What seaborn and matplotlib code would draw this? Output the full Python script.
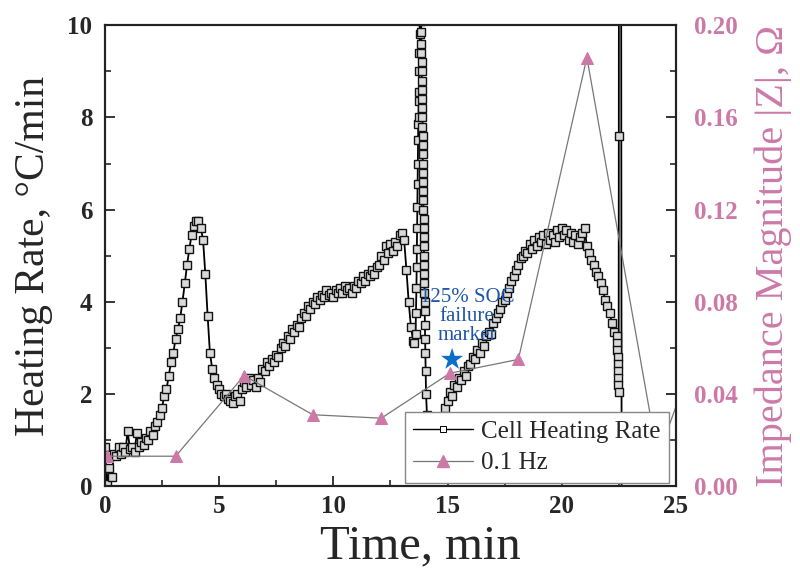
import numpy as np
import pandas as pd
import seaborn as sns
import matplotlib.pyplot as plt
import matplotlib.ticker as ticker
import matplotlib.lines as mlines

# %% data

# cell heating rate (min, degC/min)
heat_time = [
    0.0, 0.1, 0.2, 0.3, 0.4, 0.5, 0.6, 0.7, 0.8, 0.9,
    1.0, 1.1, 1.2, 1.3, 1.4, 1.5, 1.6, 1.7, 1.8, 1.9,
    2.0, 2.1, 2.2, 2.3, 2.4, 2.5, 2.6, 2.7, 2.8, 2.9,
    3.0, 3.1, 3.2, 3.3, 3.4, 3.5, 3.6, 3.7, 3.8, 3.9,
    4.0, 4.1, 4.2, 4.3, 4.4, 4.5, 4.6, 4.7, 4.8, 4.9,
    5.0, 5.1, 5.2, 5.3, 5.4, 5.5, 5.6, 5.7, 5.8, 5.9,
    6.0, 6.1, 6.2, 6.3, 6.4, 6.5, 6.6, 6.7, 6.8, 6.9,
    7.0, 7.1, 7.2, 7.3, 7.4, 7.5, 7.6, 7.7, 7.8, 7.9,
    8.0, 8.1, 8.2, 8.3, 8.4, 8.5, 8.6, 8.7, 8.8, 8.9,
    9.0, 9.1, 9.2, 9.3, 9.4, 9.5, 9.6, 9.7, 9.8, 9.9,
    10.0, 10.1, 10.2, 10.3, 10.4, 10.5, 10.6, 10.7, 10.8, 10.9,
    11.0, 11.1, 11.2, 11.3, 11.4, 11.5, 11.6, 11.7, 11.8, 11.9,
    12.0, 12.1, 12.2, 12.3, 12.4, 12.5, 12.6, 12.7, 12.8, 12.9,
    13.0, 13.1, 13.2, 13.3, 13.4, 13.5,
    # first spike (up, then down)
    13.55, 13.60, 13.62, 13.64, 13.65, 13.66, 13.67, 13.68, 13.69, 13.70,
    13.71, 13.72, 13.73, 13.74, 13.75, 13.76, 13.77, 13.78, 13.79,
    13.840, 13.845, 13.850, 13.855, 13.860, 13.865, 13.870, 13.875, 13.880, 13.885,
    13.890, 13.895, 13.900, 13.905, 13.910, 13.915, 13.920, 13.925, 13.930, 13.935,
    13.940, 13.945, 13.950, 13.955, 13.960, 13.965, 13.970, 13.975, 13.980, 13.985,
    13.990, 13.995, 14.000, 14.010, 14.020, 14.030, 14.040, 14.060,
    14.1, 14.2, 14.3, 14.4, 14.5, 14.6, 14.7, 14.8, 14.9,
    15.0, 15.1, 15.2, 15.3, 15.4, 15.5, 15.6, 15.7, 15.8, 15.9,
    16.0, 16.1, 16.2, 16.3, 16.4, 16.5, 16.6, 16.7, 16.8, 16.9,
    17.0, 17.1, 17.2, 17.3, 17.4, 17.5, 17.6, 17.7, 17.8, 17.9,
    18.0, 18.1, 18.2, 18.3, 18.4, 18.5, 18.6, 18.7, 18.8, 18.9,
    19.0, 19.1, 19.2, 19.3, 19.4, 19.5, 19.6, 19.7, 19.8, 19.9,
    20.0, 20.1, 20.2, 20.3, 20.4, 20.5, 20.6, 20.7, 20.8, 20.9,
    21.0, 21.1, 21.2, 21.3, 21.4, 21.5, 21.6, 21.7, 21.8, 21.9,
    22.0, 22.1, 22.2, 22.3, 22.4,
    # second spike
    22.42, 22.43, 22.44, 22.45, 22.46, 22.47, 22.48, 22.49, 22.50, 22.51, 22.73,
]
heat_rate = [
    0.85, 0.05, 0.40, 0.20, 0.70, 0.65, 0.85, 0.70, 0.85, 0.75,
    1.20, 0.80, 0.85, 0.75, 1.15, 0.85, 0.95, 0.90, 1.05, 1.00,
    1.20, 1.10, 1.30, 1.40, 1.55, 1.70, 1.95, 2.10, 2.40, 2.70,
    2.90, 3.20, 3.40, 3.65, 4.00, 4.40, 4.80, 5.15, 5.45, 5.65,
    5.75, 5.75, 5.60, 5.35, 4.60, 3.70, 2.90, 2.55, 2.35, 2.20,
    2.10, 2.00, 1.95, 2.00, 1.90, 1.85, 1.80, 1.95, 2.00, 1.85,
    2.10, 2.25, 2.15, 2.35, 2.20, 2.30, 2.15, 2.35, 2.25, 2.55,
    2.50, 2.70, 2.60, 2.75, 2.70, 2.85, 2.80, 3.00, 3.10, 3.05,
    3.25, 3.20, 3.40, 3.35, 3.50, 3.45, 3.65, 3.75, 3.70, 3.90,
    3.85, 4.00, 3.95, 4.10, 4.05, 4.15, 4.10, 4.25, 4.15, 4.20,
    4.10, 4.25, 4.20, 4.30, 4.20, 4.35, 4.25, 4.30, 4.20, 4.35,
    4.30, 4.45, 4.40, 4.55, 4.45, 4.60, 4.55, 4.70, 4.60, 4.75,
    4.80, 5.00, 4.90, 5.20, 5.05, 5.25, 5.10, 5.30, 5.20, 5.45,
    5.50, 5.35, 4.70, 4.00, 3.45, 3.15,
    3.10, 3.30, 3.75, 4.30, 4.75, 5.15, 5.60, 6.05, 6.55, 7.00,
    7.50, 7.85, 8.00, 8.35, 8.55, 9.00, 9.40, 9.80, 10.60,
    10.40, 10.10, 9.85, 9.60, 9.40, 9.20, 9.00, 8.80, 8.60, 8.40,
    8.20, 8.00, 7.80, 7.60, 7.40, 7.20, 7.00, 6.80, 6.60, 6.40,
    6.20, 6.00, 5.80, 5.60, 5.40, 5.20, 5.00, 4.80, 4.60, 4.40,
    4.20, 4.00, 3.80, 3.50, 3.20, 2.90, 2.50, 2.00,
    1.55, 1.45, 1.25, 1.10, 1.05, 1.15, 1.30, 1.50, 1.70,
    1.85, 2.05, 1.95, 2.20, 2.15, 2.35, 2.30, 2.50, 2.40, 2.60,
    2.65, 2.80, 2.75, 2.95, 2.90, 3.10, 3.05, 3.25, 3.35, 3.30,
    3.55, 3.65, 3.75, 3.85, 4.00, 4.05, 4.20, 4.30, 4.45, 4.55,
    4.70, 4.80, 4.95, 5.00, 5.10, 5.05, 5.25, 5.15, 5.35, 5.20,
    5.40, 5.30, 5.45, 5.25, 5.50, 5.35, 5.45, 5.30, 5.55, 5.40,
    5.60, 5.45, 5.55, 5.35, 5.50, 5.30, 5.45, 5.25, 5.40, 5.50,
    5.60, 5.20, 5.05, 4.90, 4.80, 4.65, 4.55, 4.40, 4.25, 4.05,
    3.90, 3.75, 3.55, 3.35, 3.25,
    3.10, 2.95, 2.80, 2.65, 2.50, 2.35, 2.20, 2.05, 7.60, 60.0, -60.0,
]

# impedance magnitude at 0.1 Hz (min, ohm)
imp_time = [0.1, 3.1, 6.1, 9.1, 12.1, 15.1, 18.1, 21.1, 24.2, 27.2]
imp_mag = [0.013, 0.013, 0.048, 0.031, 0.0295, 0.049, 0.055, 0.186, 0.0126, 0.095]

# failure marker
star_time = [15.2]
star_rate = [2.75]

heat_df = pd.DataFrame({"time": heat_time, "rate": heat_rate})
imp_df = pd.DataFrame({"time": imp_time, "imp": imp_mag})
star_df = pd.DataFrame({"time": star_time, "rate": star_rate})

# %% style
sns.set_style("ticks")
plt.rcParams["font.family"] = ["Liberation Serif", "DejaVu Serif"]

pink = "#cc79a7"
blue = "#0b6fc9"

fig, ax = plt.subplots(figsize=(8, 5.74), dpi=100)
fig.subplots_adjust(left=0.131, right=0.845, top=0.956, bottom=0.153)
ax2 = ax.twinx()

sns.lineplot(data=heat_df, x="time", y="rate", ax=ax, sort=False, estimator=None,
             color="black", linewidth=1.3, marker="s", markersize=6.2,
             markerfacecolor="#d9d9d9", markeredgecolor="#111111", markeredgewidth=1.0,
             legend=False)

sns.scatterplot(data=star_df, x="time", y="rate", ax=ax, marker="*", s=280,
                color=blue, edgecolor="none", zorder=5, legend=False)
ax.text(15.85, 3.68, "125% SOC\nfailure\nmarker", ha="center", va="center",
        fontsize=15, color="#1f56a8", linespacing=1.0, zorder=6)

sns.lineplot(data=imp_df, x="time", y="imp", ax=ax2, sort=False, estimator=None,
             color="#777777", linewidth=0.9, marker="^", markersize=9,
             markerfacecolor=pink, markeredgecolor=pink, legend=False)

# %% axes
ax.set_xlim(0, 25)
ax.set_ylim(0, 10)
ax2.set_ylim(0, 0.20)

ax.xaxis.set_major_locator(ticker.MultipleLocator(5))
ax.xaxis.set_minor_locator(ticker.MultipleLocator(2.5))
ax.yaxis.set_major_locator(ticker.MultipleLocator(2))
ax.yaxis.set_minor_locator(ticker.MultipleLocator(1))
ax2.yaxis.set_major_locator(ticker.MultipleLocator(0.04))
ax2.yaxis.set_minor_locator(ticker.MultipleLocator(0.02))
ax2.yaxis.set_major_formatter(ticker.FormatStrFormatter("%.2f"))

for a in (ax, ax2):
    for sp in a.spines.values():
        sp.set_linewidth(1.5)
        sp.set_color("#222222")

ax.tick_params(axis="both", which="major", direction="in", length=7, width=1.3,
               labelsize=18, pad=6, top=False, right=False)
ax.tick_params(axis="both", which="minor", direction="in", length=4, width=1.2,
               top=False, right=False)
ax.tick_params(axis="y", pad=9)
ax2.tick_params(axis="y", which="major", direction="in", length=7, width=1.3,
                labelsize=18, pad=13, colors="#222222", labelcolor=pink)
ax2.tick_params(axis="y", which="minor", direction="in", length=4, width=1.2)

for lab in ax.get_xticklabels() + ax.get_yticklabels() + ax2.get_yticklabels():
    lab.set_fontweight("bold")

ax.set_xlabel("Time, min", fontsize=35)
ax.xaxis.set_label_coords(0.552, -0.083)
ax.set_ylabel("Heating Rate, °C/min", fontsize=30, labelpad=10)
ax2.set_ylabel("Impedance Magnitude |Z|, Ω", fontsize=29, color=pink, labelpad=12)

# %% legend
h_heat = mlines.Line2D([], [], color="black", linewidth=1.0, marker="s", markersize=5,
                       markerfacecolor="white", markeredgecolor="black", markeredgewidth=0.7)
h_imp = mlines.Line2D([], [], color="#777777", linewidth=0.9, marker="^", markersize=9,
                      markerfacecolor=pink, markeredgecolor=pink)
leg = ax2.legend([h_heat, h_imp], ["Cell Heating Rate", "0.1 Hz"], loc="lower right",
                 bbox_to_anchor=(0.988, 0.0065), borderaxespad=0, fontsize=18,
                 fancybox=False, framealpha=1, edgecolor="#888888",
                 handlelength=2.4, handletextpad=0.3, labelspacing=0.35, borderpad=0.35)
leg.get_frame().set_linewidth(1.0)
leg.set_zorder(10)

plt.savefig("out.png", dpi=100)
